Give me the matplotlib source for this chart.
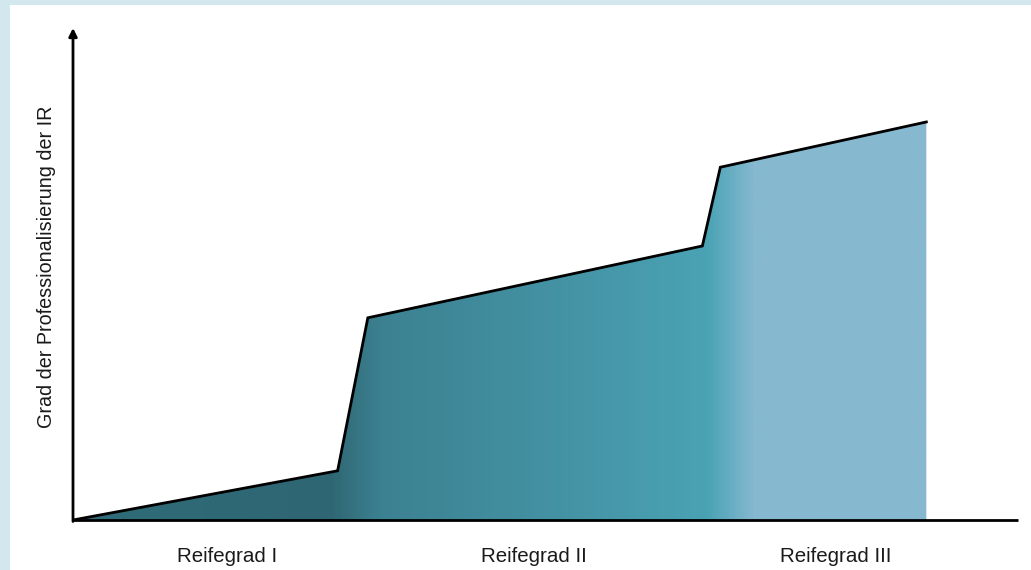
import numpy as np
import matplotlib.pyplot as plt
from matplotlib.colors import LinearSegmentedColormap
from matplotlib.patches import Polygon, Rectangle

# Outline of the maturity curve (x: progress, y: degree of professionalisation)
curve_x = [0.0, 28.0, 31.2, 66.6, 68.5, 90.3]
curve_y = [0.0, 10.0, 41.1, 55.7, 71.7, 80.9]

stage_labels = ["Reifegrad I", "Reifegrad II", "Reifegrad III"]
stage_centers = [16.3, 48.8, 80.7]
y_label = "Grad der Professionalisierung der IR"

plt.rcParams['font.family'] = ['Liberation Sans', 'DejaVu Sans']

fig = plt.figure(figsize=(10.31, 5.70), dpi=100)
fig.patch.set_facecolor('#d3e7ee')
# white card behind the chart
fig.add_artist(Rectangle((10 / 1031, 0), 1 - 10 / 1031, 1 - 5 / 570,
                         transform=fig.transFigure, facecolor='white',
                         edgecolor='none', zorder=0))

ax = fig.add_axes([73 / 1031, 50 / 570, 945 / 1031, 492 / 570])
ax.set_xlim(0, 100)
ax.set_ylim(0, 100)
ax.patch.set_alpha(0)

# horizontal colour gradient, clipped to the area under the curve
stops = [(0.0, '#2f6c79'), (0.30, '#2f6673'), (0.36, '#3c8191'),
         (0.60, '#4595a7'), (0.745, '#4aa3b4'), (0.80, '#86b9d0'),
         (1.0, '#86b9d0')]
cmap = LinearSegmentedColormap.from_list('stages', stops)
xmax = curve_x[-1]
grad = np.linspace(0, 1, 600).reshape(1, -1)
img = ax.imshow(grad, cmap=cmap, aspect='auto', extent=[0, xmax, 0, 100],
                origin='lower', zorder=1, interpolation='bilinear')
verts = list(zip(curve_x, curve_y)) + [(xmax, 0)]
clip = Polygon(verts, closed=True, transform=ax.transData, facecolor='none',
               edgecolor='none')
ax.add_patch(clip)
img.set_clip_path(clip)

ax.plot(curve_x, curve_y, color='black', lw=2.0, solid_joinstyle='miter',
        zorder=3)

for s in ax.spines.values():
    s.set_visible(False)
ax.set_xticks([])
ax.set_yticks([])
ax.set_xlim(0, 100)
ax.set_ylim(0, 100)

# axes lines with arrow on the vertical axis
ax.plot([0, 100], [0, 0], color='black', lw=2.0, zorder=4, clip_on=False,
        solid_capstyle='butt')
ax.annotate('', xy=(0, 100), xytext=(0, -0.3),
            arrowprops=dict(arrowstyle='-|>', color='black', lw=2.0,
                            mutation_scale=12, shrinkA=0, shrinkB=0),
            zorder=4, annotation_clip=False)

for lbl, cx in zip(stage_labels, stage_centers):
    ax.text(cx, -7.4, lbl, ha='center', va='center', fontsize=14.8,
            color='#1a1a1a')

ax.text(-2.8, 51.4, y_label, rotation=90, ha='center', va='center',
        fontsize=14.2, color='#1a1a1a')

fig.savefig('out.png', dpi=100, facecolor=fig.get_facecolor())
